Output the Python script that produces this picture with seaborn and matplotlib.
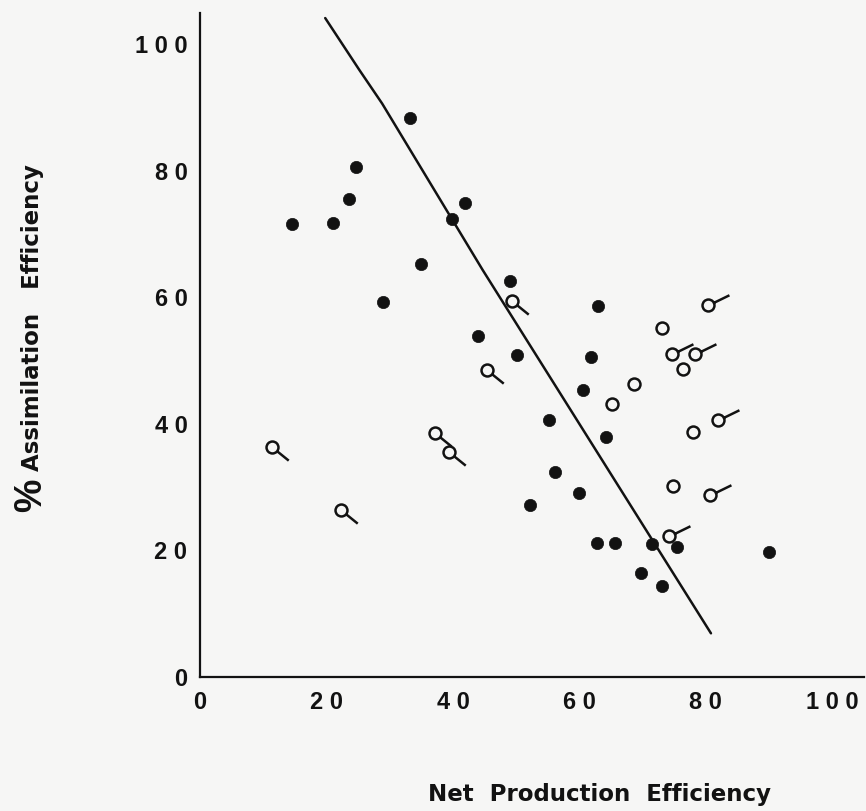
import numpy as np
import pandas as pd
import matplotlib
matplotlib.use("Agg")
import matplotlib.pyplot as plt
from matplotlib.path import Path
import seaborn as sns

# Filled symbols: net production efficiency (%) vs assimilation efficiency (%)
solid_npe = [33.2, 24.7, 23.6, 14.5, 21.1, 41.9, 39.8, 34.9, 29.0, 43.9,
             49.1, 63.0, 50.2, 61.9, 60.6, 55.2, 64.2, 56.1, 59.9, 52.2,
             62.8, 65.6, 71.4, 75.5, 90.0, 69.8, 73.1]
solid_ae = [88.3, 80.6, 75.5, 71.6, 71.7, 74.9, 72.3, 65.2, 59.3, 53.8,
            62.6, 58.6, 50.8, 50.6, 45.4, 40.6, 37.9, 32.4, 29.0, 27.1,
            21.2, 21.2, 21.0, 20.5, 19.8, 16.5, 14.4]

# Open symbols with a tail pointing down-right
tail_down_npe = [11.4, 22.3, 37.2, 39.3, 45.4, 49.3]
tail_down_ae = [36.4, 26.4, 38.6, 35.6, 48.5, 59.4]

# Open symbols with a tail pointing up-right
tail_up_npe = [80.3, 74.6, 78.2, 81.9, 80.6, 74.1]
tail_up_ae = [58.8, 51.1, 51.0, 40.6, 28.8, 22.3]

# Plain open symbols
open_npe = [73.0, 76.3, 68.7, 65.2, 78.0, 74.8]
open_ae = [55.2, 48.6, 46.3, 43.1, 38.7, 30.1]

# Hand-fitted trend line
line_npe = [19.8, 25.2, 28.8, 44.7, 80.8]
line_ae = [104.1, 95.9, 90.6, 64.3, 6.9]

ticks = [0, 20, 40, 60, 80, 100]
tick_labels = [" ".join(str(t)) for t in ticks]

INK = "#121212"
PAPER = "#f6f6f5"

sns.set_style("white")
plt.rcParams["font.family"] = ["DejaVu Sans"]
plt.rcParams["font.weight"] = "bold"

fig = plt.figure(figsize=(8.66, 8.11), dpi=100, facecolor=PAPER)
ax = fig.add_axes([200 / 866, 134 / 811, 664 / 866, 664 / 811])
ax.set_facecolor(PAPER)


def tailed_circle(angle_deg, length):
    """Unit circle with a straight stalk leaving its rim at angle_deg."""
    circ = Path.unit_circle()
    a = np.deg2rad(angle_deg)
    start = [np.cos(a), np.sin(a)]
    end = [length * np.cos(a), length * np.sin(a)]
    verts = np.concatenate([circ.vertices, [start, end]])
    codes = np.concatenate([circ.codes, [Path.MOVETO, Path.LINETO]])
    return Path(verts, codes)


def marker_area(path, radius_pt):
    # matplotlib scales custom paths so the largest |coordinate| is 0.5
    rescale = np.abs(path.vertices).max()
    return (2 * rescale * radius_pt) ** 2


R_OPEN = 4.3
LW_OPEN = 1.8

down_marker = tailed_circle(-39, 3.5)
up_marker = tailed_circle(26, 3.9)

sns.lineplot(x=line_npe, y=line_ae, sort=False, color=INK, lw=1.8, ax=ax)

sns.scatterplot(x=solid_npe, y=solid_ae, marker="o", s=78, color=INK,
                edgecolor=INK, linewidth=0.5, ax=ax, zorder=3)
sns.scatterplot(x=open_npe, y=open_ae, marker="o", s=(2 * R_OPEN) ** 2,
                color=INK, facecolor=PAPER, edgecolor=INK,
                linewidth=LW_OPEN, ax=ax, zorder=3)
sns.scatterplot(x=tail_down_npe, y=tail_down_ae, marker=down_marker,
                s=marker_area(down_marker, R_OPEN), color=INK,
                facecolor=PAPER, edgecolor=INK, linewidth=LW_OPEN,
                ax=ax, zorder=3)
sns.scatterplot(x=tail_up_npe, y=tail_up_ae, marker=up_marker,
                s=marker_area(up_marker, R_OPEN), color=INK,
                facecolor=PAPER, edgecolor=INK, linewidth=LW_OPEN,
                ax=ax, zorder=3)

ax.set_xlim(0, 105)
ax.set_ylim(0, 104.9)
ax.set_xticks(ticks)
ax.set_yticks(ticks)
ax.set_xticklabels(tick_labels)
ax.set_yticklabels(tick_labels)
ax.tick_params(axis="both", direction="in", length=11.5, width=1.5,
               color=INK, labelcolor=INK, labelsize=17)
ax.tick_params(axis="x", pad=10)
ax.tick_params(axis="y", pad=9)
for lab in ax.get_xticklabels() + ax.get_yticklabels():
    lab.set_fontfamily("Liberation Sans")
    lab.set_fontweight("bold")

for side in ("top", "right"):
    ax.spines[side].set_visible(False)
for side in ("left", "bottom"):
    ax.spines[side].set_color(INK)
    ax.spines[side].set_linewidth(1.6)

ax.set_xlabel("Net  Production  Efficiency", fontsize=16.5, color=INK,
              fontweight="bold")
ax.xaxis.set_label_coords((600 - 200) / 664, (677 - 783) / 664)
ax.set_ylabel("Assimilation   Efficiency", fontsize=16.5, color=INK,
              fontweight="bold")
ax.yaxis.set_label_coords((44 - 200) / 664, (677 - 318) / 664)
ax.text((31 - 200) / 664, (677 - 495) / 664, "%", rotation=90,
        transform=ax.transAxes, ha="center", va="center", fontsize=27,
        color=INK, fontfamily="Liberation Sans", fontweight="bold")

fig.savefig("out.png", dpi=100, facecolor=PAPER)
